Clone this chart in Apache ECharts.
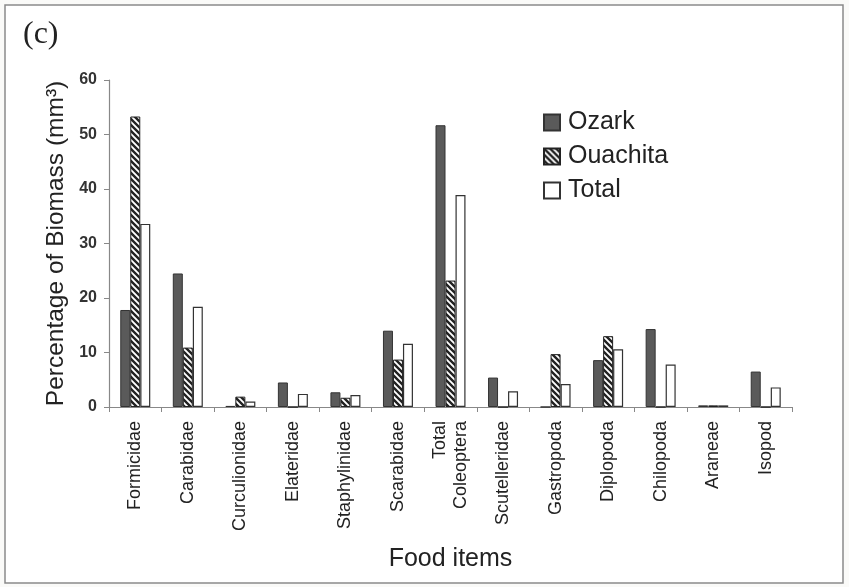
<!DOCTYPE html>
<html>
<head>
<meta charset="utf-8">
<script src="https://cdn.jsdelivr.net/npm/echarts@6/dist/echarts.min.js"></script>
<style>
  html, body { margin: 0; padding: 0; background: #fafaf8; }
  #chart { width: 849px; height: 587px; }
</style>
</head>
<body>
<div id="chart"></div>
<script>
// Food item categories (x axis)
var categories = ["Formicidae", "Carabidae", "Curculionidae", "Elateridae", "Staphylinidae",
  "Scarabidae", "Total\nColeoptera", "Scutelleridae", "Gastropoda", "Diplopoda",
  "Chilopoda", "Araneae", "Isopod"];

// Percentage of biomass per region
var ozark    = [17.8, 24.5, 0.2, 4.5, 2.7, 14.0, 51.7, 5.4, 0, 8.6, 14.3, 0.3, 6.5];
var ouachita = [53.3, 10.9, 1.9, 0, 1.7, 8.7, 23.2, 0, 9.7, 13.0, 0, 0.3, 0];
var total    = [33.6, 18.4, 1.0, 2.4, 2.2, 11.6, 38.9, 2.9, 4.2, 10.6, 7.8, 0.3, 3.6];

// y axis ticks
var yTicks = [0, 10, 20, 30, 40, 50, 60];

// diagonal hatch pattern for Ouachita
function makeHatch() {
  var c = document.createElement("canvas");
  c.width = 6;
  c.height = 6;
  var ctx = c.getContext("2d");
  ctx.fillStyle = "#fff";
  ctx.fillRect(0, 0, 6, 6);
  ctx.strokeStyle = "#222";
  ctx.lineWidth = 2.4;
  ctx.beginPath();
  ctx.moveTo(-1, -1); ctx.lineTo(7, 7);
  ctx.moveTo(-4, 2); ctx.lineTo(4, 10);
  ctx.moveTo(2, -4); ctx.lineTo(10, 4);
  ctx.stroke();
  return c;
}

var chart = echarts.init(document.getElementById("chart"));
var font = "Liberation Sans, Arial, sans-serif";

var option = {
  animation: false,
  backgroundColor: "#fafaf8",
  graphic: [
    {
      type: "rect",
      shape: { x: 5, y: 5, width: 838, height: 578 },
      style: { fill: "#fff", stroke: "#8a8a8a", lineWidth: 1.5 },
      z: -10
    },
    {
      type: "text",
      left: 23,
      top: 19,
      style: { text: "(c)", font: "32px 'Liberation Serif', 'Times New Roman', serif", fill: "#222" }
    }
  ],
  legend: {
    orient: "vertical",
    left: 538,
    top: 105,
    icon: "rect",
    itemWidth: 16,
    itemHeight: 16,
    itemGap: 9,
    textStyle: { fontFamily: font, fontSize: 25, color: "#222", padding: [0, 0, 0, 3] },
    data: ["Ozark", "Ouachita", "Total"]
  },
  grid: { left: 109, right: 57, top: 80, bottom: 180, containLabel: false },
  xAxis: {
    type: "category",
    data: categories,
    name: "Food items",
    nameLocation: "middle",
    nameGap: 140,
    nameTextStyle: { fontFamily: font, fontSize: 25, color: "#222" },
    axisLine: { lineStyle: { color: "#888", width: 1.2 } },
    axisTick: { show: true, length: 5, lineStyle: { color: "#888" } },
    axisLabel: {
      rotate: 90,
      interval: 0,
      margin: 14,
      fontFamily: font,
      fontSize: 18,
      color: "#222",
      lineHeight: 21
    }
  },
  yAxis: {
    type: "value",
    min: 0,
    max: 60,
    interval: 10,
    name: "Percentage of Biomass (mm\u00b3)",
    nameLocation: "middle",
    nameGap: 34,
    nameTextStyle: { fontFamily: font, fontSize: 24.5, color: "#222" },
    axisLine: { show: true, lineStyle: { color: "#888", width: 1.2 } },
    axisTick: { show: true, length: 5, lineStyle: { color: "#888" } },
    splitLine: { show: false },
    axisLabel: {
      margin: 12,
      fontFamily: font,
      fontSize: 16,
      fontWeight: "bold",
      color: "#333",
      formatter: function (v) { return yTicks.indexOf(v) >= 0 ? String(v) : ""; }
    }
  },
  series: [
    {
      name: "Ozark",
      type: "bar",
      data: ozark,
      barWidth: 10,
      barGap: "0%",
      itemStyle: { color: "#5a5a5a", borderColor: "#333", borderWidth: 1 }
    },
    {
      name: "Ouachita",
      type: "bar",
      data: ouachita,
      barWidth: 10,
      barGap: "0%",
      itemStyle: { color: { image: makeHatch(), repeat: "repeat" }, borderColor: "#222", borderWidth: 1 }
    },
    {
      name: "Total",
      type: "bar",
      data: total,
      barWidth: 10,
      barGap: "0%",
      itemStyle: { color: "#fff", borderColor: "#333", borderWidth: 1.2 }
    }
  ]
};

chart.setOption(option);
</script>
</body>
</html>
